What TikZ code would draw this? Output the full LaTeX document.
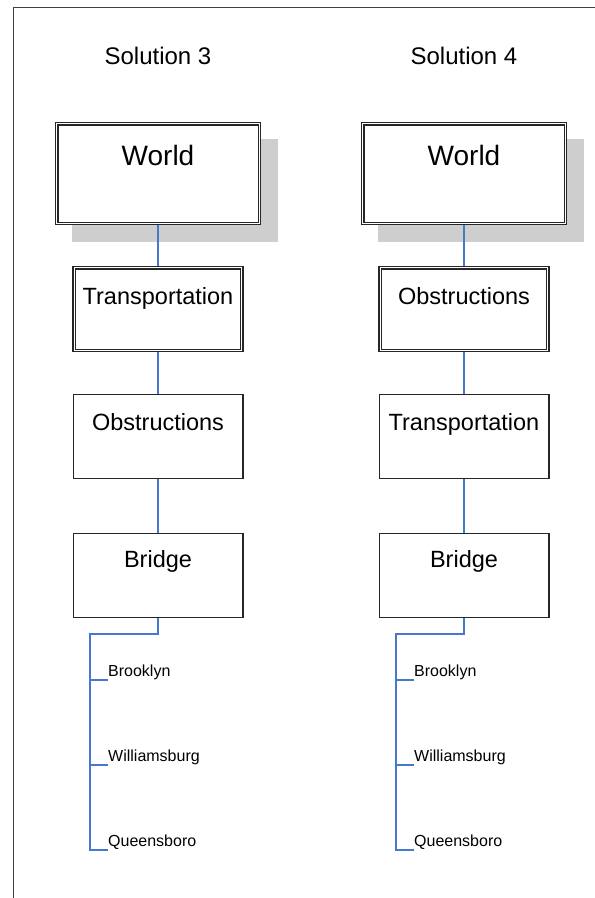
\documentclass[tikz,border=0pt]{standalone}
\usepackage{fontspec}
\setmainfont{Liberation Sans}
\definecolor{connblue}{RGB}{70,120,205}
\definecolor{shadowgray}{RGB}{206,206,206}
\begin{document}
\begin{tikzpicture}[x=1pt,y=-1pt,
  frameline/.style={draw=black!75, line width=1pt},
  title/.style={anchor=base, inner sep=0pt, font=\fontsize{24}{28}\selectfont},
  boxtext/.style={anchor=base, inner sep=0pt, font=\fontsize{23.5}{28}\selectfont},
  worldtext/.style={anchor=base, inner sep=0pt, font=\fontsize{28}{32}\selectfont},
  leaf/.style={anchor=base west, inner sep=0pt, font=\fontsize{16}{19}\selectfont},
  box/.style={draw=black!85, fill=white, line width=1.3pt, inner sep=0pt,
    minimum width=169.7pt, minimum height=83.7pt},
  dbox/.style={draw=black!85, fill=white, line width=1.1pt, inner sep=0pt},
  innerline/.style={draw=black!85, line width=1.1pt},
  worldbox/.style={dbox, minimum width=205pt, minimum height=102pt},
  subbox/.style={dbox, minimum width=170pt, minimum height=85pt},
  shadowbox/.style={fill=shadowgray, draw=none, inner sep=0pt,
    minimum width=206pt, minimum height=103pt},
  conn/.style={draw=connblue, line width=1.4pt}
]
\useasboundingbox (0,0) rectangle (595,898);

% page frame: top and left edges only
\draw[frameline] (595,7.5) -- (13,7.5) -- (13,898);

% ---------------- Solution 3 ----------------
\node[title] (s3) at (158,64) {Solution 3};
\node[shadowbox] (w3s) at (175,190.5) {};
\node[worldbox] (w3) at (158,173.5) {};
\draw[innerline] ([shift={(3pt,-3pt)}]w3.north west) rectangle ([shift={(-3pt,3pt)}]w3.south east);
\node[worldtext] (w3t) at (158,165) {World};
\node[subbox] (t3) at (158,309) {};
\draw[innerline] ([shift={(3pt,-3pt)}]t3.north west) rectangle ([shift={(-3pt,3pt)}]t3.south east);
\node[boxtext] (t3t) at (158,304) {Transportation};
\node[box] (o3) at (158,436.5) {};
\node[boxtext] (o3t) at (158,430.5) {Obstructions};
\node[box] (b3) at (158,575.5) {};
\node[boxtext] (b3t) at (158,567) {Bridge};

\draw[conn] (w3.south) -- (t3.north);
\draw[conn] (t3.south) -- (o3.north);
\draw[conn] (o3.south) -- (b3.north);

\coordinate (k3) at (90,634);
\node[leaf] (br3) at (108,676) {Brooklyn};
\node[leaf] (wi3) at (108,761) {Williamsburg};
\node[leaf] (qu3) at (108,846) {Queensboro};
\draw[conn] (b3.south) |- (k3) |- ([yshift=-4pt]qu3.base west);
\draw[conn] (k3) |- ([yshift=-4pt]br3.base west);
\draw[conn] (k3) |- ([yshift=-4pt]wi3.base west);

% ---------------- Solution 4 ----------------
\node[title] (s4) at (464,64) {Solution 4};
\node[shadowbox] (w4s) at (480.5,190.5) {};
\node[worldbox] (w4) at (464,173.5) {};
\draw[innerline] ([shift={(3pt,-3pt)}]w4.north west) rectangle ([shift={(-3pt,3pt)}]w4.south east);
\node[worldtext] (w4t) at (464,165) {World};
\node[subbox] (t4) at (464,309) {};
\draw[innerline] ([shift={(3pt,-3pt)}]t4.north west) rectangle ([shift={(-3pt,3pt)}]t4.south east);
\node[boxtext] (t4t) at (464,304) {Obstructions};
\node[box] (o4) at (464,436.5) {};
\node[boxtext] (o4t) at (464,430.5) {Transportation};
\node[box] (b4) at (464,575.5) {};
\node[boxtext] (b4t) at (464,567) {Bridge};

\draw[conn] (w4.south) -- (t4.north);
\draw[conn] (t4.south) -- (o4.north);
\draw[conn] (o4.south) -- (b4.north);

\coordinate (k4) at (396,634);
\node[leaf] (br4) at (414,676) {Brooklyn};
\node[leaf] (wi4) at (414,761) {Williamsburg};
\node[leaf] (qu4) at (414,846) {Queensboro};
\draw[conn] (b4.south) |- (k4) |- ([yshift=-4pt]qu4.base west);
\draw[conn] (k4) |- ([yshift=-4pt]br4.base west);
\draw[conn] (k4) |- ([yshift=-4pt]wi4.base west);
\end{tikzpicture}
\end{document}
